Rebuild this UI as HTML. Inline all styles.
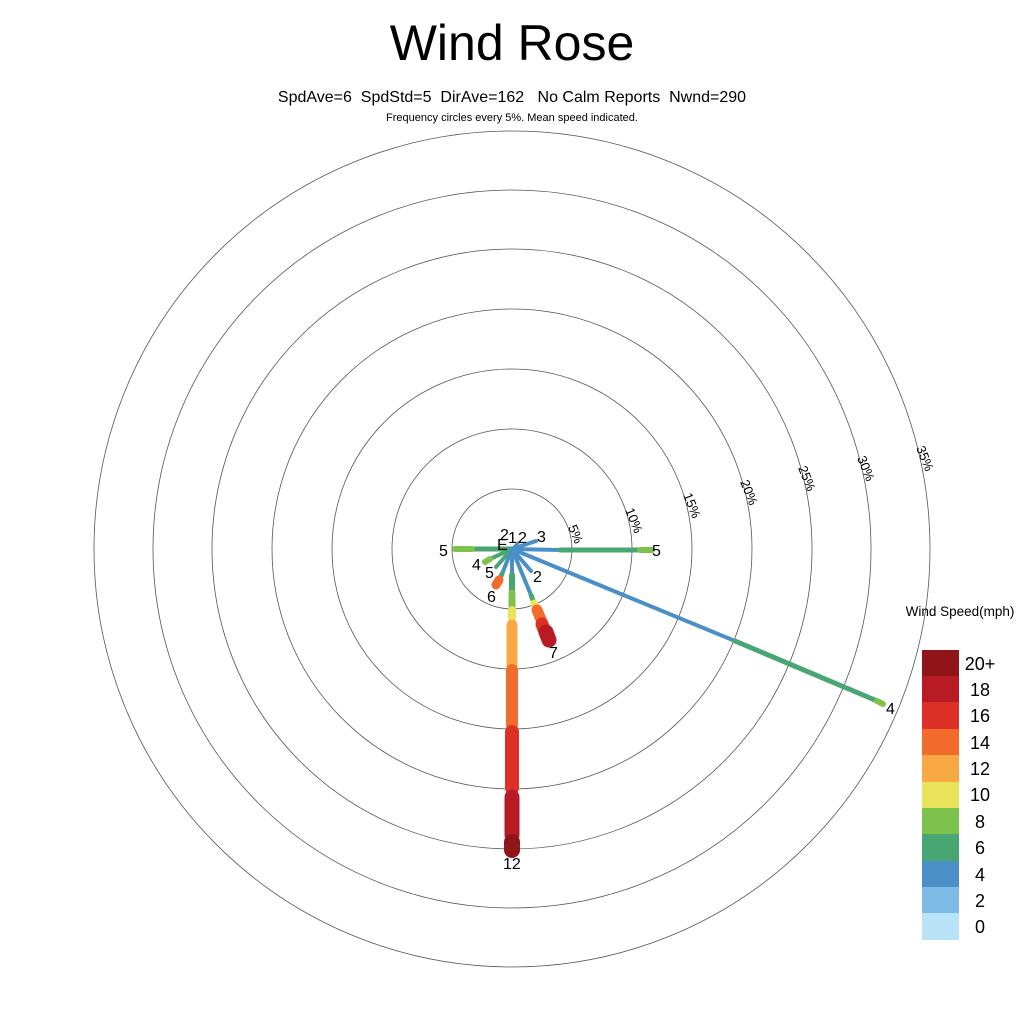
<!DOCTYPE html>
<html><head><meta charset="utf-8"><style>
body{margin:0;background:#fff;width:1024px;height:1024px;overflow:hidden}
text{font-family:"Liberation Sans",sans-serif;fill:#000;white-space:pre}
</style></head><body>
<svg width="1024" height="1024" viewBox="0 0 1024 1024">
<text x="512" y="60" font-size="50" text-anchor="middle">Wind Rose</text>
<text x="512" y="102" font-size="16" text-anchor="middle" xml:space="preserve">SpdAve=6  SpdStd=5  DirAve=162   No Calm Reports  Nwnd=290</text>
<text x="512" y="121" font-size="11" text-anchor="middle">Frequency circles every 5%. Mean speed indicated.</text>
<g fill="none" stroke="#555" stroke-width="0.8">
<circle cx="512" cy="549" r="60"/><circle cx="512" cy="549" r="120"/><circle cx="512" cy="549" r="180"/>
<circle cx="512" cy="549" r="240"/><circle cx="512" cy="549" r="300"/><circle cx="512" cy="549" r="359"/><circle cx="512" cy="549" r="418"/>
</g>
<g font-size="13">
<text transform="translate(568,527) rotate(68)">5%</text>
<text transform="translate(625,510) rotate(68)">10%</text>
<text transform="translate(683,495) rotate(68)">15%</text>
<text transform="translate(740,482) rotate(68)">20%</text>
<text transform="translate(798,468) rotate(68)">25%</text>
<text transform="translate(857,458) rotate(68)">30%</text>
<text transform="translate(916,448) rotate(68)">35%</text>
</g>
<g stroke-linecap="round" fill="none">
<line x1="512" y1="549" x2="735" y2="641" stroke="#4a8fc6" stroke-width="4"/>
<line x1="735" y1="641" x2="882" y2="703" stroke="#48a672" stroke-width="5"/>
<line x1="877" y1="701" x2="883" y2="704" stroke="#7dc24c" stroke-width="6"/>
<line x1="512" y1="549" x2="560" y2="550" stroke="#4a8fc6" stroke-width="4"/>
<line x1="560" y1="550" x2="640" y2="550" stroke="#48a672" stroke-width="5"/>
<line x1="640" y1="550" x2="652" y2="550" stroke="#7dc24c" stroke-width="6"/>
<line x1="512" y1="549" x2="472" y2="549" stroke="#48a672" stroke-width="5"/>
<line x1="472" y1="549" x2="455" y2="549" stroke="#7dc24c" stroke-width="6"/>
<line x1="512" y1="549" x2="490" y2="559" stroke="#48a672" stroke-width="4"/>
<line x1="490" y1="559" x2="485" y2="562" stroke="#7dc24c" stroke-width="6"/>
<line x1="512" y1="549" x2="496" y2="567" stroke="#48a672" stroke-width="4"/>
<line x1="512" y1="549" x2="502" y2="574" stroke="#4a8fc6" stroke-width="4"/>
<line x1="502" y1="574" x2="499" y2="580" stroke="#48a672" stroke-width="5"/>
<line x1="499" y1="580" x2="496" y2="585" stroke="#f26b2a" stroke-width="9"/>
<line x1="512" y1="549" x2="536" y2="541" stroke="#4a8fc6" stroke-width="4"/>
<line x1="512" y1="549" x2="518" y2="543" stroke="#4a8fc6" stroke-width="3"/>
<line x1="512" y1="549" x2="531" y2="571" stroke="#4a8fc6" stroke-width="4"/>
<line x1="512" y1="549" x2="531" y2="595" stroke="#4a8fc6" stroke-width="4"/>
<line x1="531" y1="595" x2="534" y2="603" stroke="#48a672" stroke-width="5"/>
<line x1="534" y1="603" x2="536" y2="608" stroke="#e8e358" stroke-width="7"/>
<line x1="537" y1="610" x2="542" y2="622" stroke="#f26b2a" stroke-width="11"/>
<line x1="542" y1="624" x2="545" y2="632" stroke="#dd3128" stroke-width="13"/>
<line x1="546" y1="632" x2="549" y2="640" stroke="#b81b24" stroke-width="15"/>
<line x1="512" y1="549" x2="512" y2="575" stroke="#4a8fc6" stroke-width="4"/>
<line x1="512" y1="575" x2="512" y2="593" stroke="#48a672" stroke-width="6"/>
<line x1="512" y1="593" x2="512" y2="608" stroke="#7dc24c" stroke-width="7"/>
<line x1="512" y1="610" x2="512" y2="618" stroke="#e8e358" stroke-width="8"/>
<line x1="512" y1="625" x2="512" y2="665" stroke="#f8a944" stroke-width="11"/>
<line x1="512" y1="670" x2="512" y2="725" stroke="#f26b2a" stroke-width="12"/>
<line x1="512" y1="732" x2="512" y2="788" stroke="#dd3128" stroke-width="14"/>
<line x1="512" y1="797" x2="512" y2="835" stroke="#b81b24" stroke-width="15"/>
<line x1="512" y1="842" x2="512" y2="850" stroke="#901519" stroke-width="16"/>
</g>
<g font-size="16">
<text x="652" y="556">5</text>
<text x="439" y="556">5</text>
<text x="886" y="714">4</text>
<text x="472" y="570">4</text>
<text x="485" y="578">5</text>
<text x="487" y="602">6</text>
<text x="537" y="542">3</text>
<text x="533" y="582">2</text>
<text x="549" y="658">7</text>
<text x="503" y="869">12</text>
<text x="500" y="540">2</text>
<text x="508" y="543">1</text>
<text x="518" y="543">2</text>
<text x="497" y="550">E</text>
</g>
<text x="960" y="616" font-size="13.5" text-anchor="middle">Wind Speed(mph)</text>
<g>
<rect x="922" y="650" width="37" height="27" fill="#901519"/>
<rect x="922" y="676" width="37" height="27" fill="#b81b24"/>
<rect x="922" y="702" width="37" height="27" fill="#dd3128"/>
<rect x="922" y="729" width="37" height="27" fill="#f26b2a"/>
<rect x="922" y="755" width="37" height="27" fill="#f8a944"/>
<rect x="922" y="782" width="37" height="27" fill="#e8e358"/>
<rect x="922" y="808" width="37" height="27" fill="#7dc24c"/>
<rect x="922" y="834" width="37" height="27" fill="#48a672"/>
<rect x="922" y="861" width="37" height="27" fill="#4a8fc6"/>
<rect x="922" y="887" width="37" height="27" fill="#7dbae6"/>
<rect x="922" y="913" width="37" height="27" fill="#b8e3f7"/>
</g>
<g font-size="18" text-anchor="middle">
<text x="980" y="670">20+</text><text x="980" y="696">18</text><text x="980" y="722">16</text>
<text x="980" y="749">14</text><text x="980" y="775">12</text><text x="980" y="801">10</text>
<text x="980" y="828">8</text><text x="980" y="854">6</text><text x="980" y="881">4</text>
<text x="980" y="907">2</text><text x="980" y="933">0</text>
</g>
</svg>
</body></html>
